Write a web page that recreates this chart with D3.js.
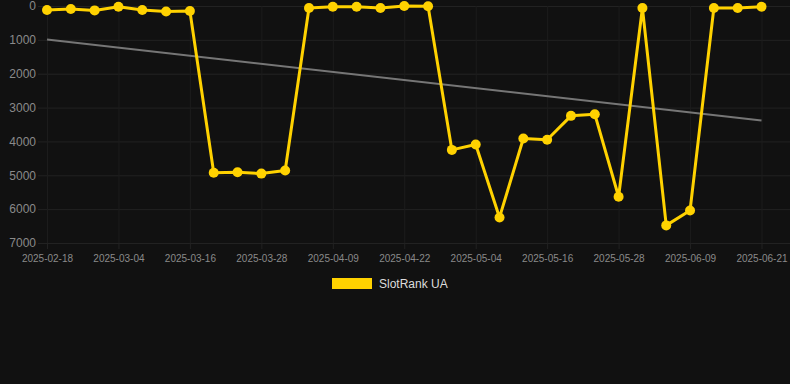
<!DOCTYPE html>
<html lang="en">
<head>
    <meta charset="UTF-8">
    <title>SlotRank UA</title>
    <script src="https://cdn.jsdelivr.net/npm/d3@7/dist/d3.min.js"></script>
    <style>
        body { margin: 0; background: #111111; }
        svg { display: block; font-family: "Liberation Sans", Arial, sans-serif; }
    </style>
</head>
<body>
<script>

    // dates (category axis) and rank values
    var dates = [
        "2025-02-18", "2025-02-22", "2025-02-27", "2025-03-04", "2025-03-08", "2025-03-12",
        "2025-03-16", "2025-03-20", "2025-03-24", "2025-03-28", "2025-04-01", "2025-04-05",
        "2025-04-09", "2025-04-13", "2025-04-17", "2025-04-22", "2025-04-26", "2025-04-30",
        "2025-05-04", "2025-05-08", "2025-05-12", "2025-05-16", "2025-05-20", "2025-05-24",
        "2025-05-28", "2025-06-01", "2025-06-05", "2025-06-09", "2025-06-13", "2025-06-17",
        "2025-06-21"
    ];
    var ranks = [
        120, 90, 130, 20, 120, 160,
        150, 4925, 4910, 4950, 4860, 60,
        20, 20, 60, 0, 10, 4250,
        4090, 6245, 3915, 3950, 3245, 3195,
        5635, 60, 6480, 6040, 60, 60,
        20
    ];
    // trend line, first and last value
    var trend = [990, 3385];
    var yTicks = [0, 1000, 2000, 3000, 4000, 5000, 6000, 7000];
    var seriesName = "SlotRank UA";

    var width = 790;
    var height = 384;
    // plot box (top is a reserved global, so prefixed names)
    var plotLeft = 47, plotRight = 761.5, plotTop = 6, plotBottom = 243;

    var svg = d3.select("body")
        .append("svg")
        .attr("width", width)
        .attr("height", height);

    svg.append("rect")
        .attr("width", width)
        .attr("height", height)
        .attr("fill", "#111111");

    var x = d3.scalePoint()
        .domain(dates)
        .range([plotLeft, plotRight]);

    var y = d3.scaleLinear()
        .domain([0, 7000])
        .range([plotTop, plotBottom]);

    // horizontal grid + y labels
    var yAxis = svg.append("g")
        .attr("transform", "translate(38,0)")
        .call(d3.axisLeft(y).tickValues(yTicks).tickFormat(d3.format("d"))
            .tickSize(-(width - 38)).tickPadding(2));
    yAxis.select(".domain").remove();
    yAxis.selectAll(".tick line").attr("stroke", "#222222").attr("stroke-width", 1);
    yAxis.selectAll(".tick text")
        .attr("fill", "#8a8a8a")
        .attr("font-size", "12px");

    // vertical grid + x labels
    var xTicks = dates.filter(function (d, i) { return i % 3 === 0; });
    var xAxis = svg.append("g")
        .attr("transform", "translate(0," + plotBottom + ")")
        .call(d3.axisBottom(x).tickValues(xTicks).tickSize(-(plotBottom - plotTop)).tickPadding(12));
    xAxis.select(".domain").remove();
    xAxis.selectAll(".tick line").attr("stroke", "#1c1c1c").attr("stroke-width", 1);
    xAxis.selectAll(".tick text")
        .attr("fill", "#8a8a8a")
        .attr("font-size", "10px");
    // small tick stubs below the axis
    xAxis.selectAll(".tick").append("line")
        .attr("y1", 0).attr("y2", 6)
        .attr("stroke", "#222222");

    // trend line
    svg.append("line")
        .attr("x1", x(dates[0]))
        .attr("y1", y(trend[0]))
        .attr("x2", x(dates[dates.length - 1]))
        .attr("y2", y(trend[1]))
        .attr("stroke", "#767676")
        .attr("stroke-width", 2);

    // series
    var line = d3.line()
        .x(function (d, i) { return x(dates[i]); })
        .y(function (d) { return y(d); });

    svg.append("path")
        .datum(ranks)
        .attr("d", line)
        .attr("fill", "none")
        .attr("stroke", "#ffd200")
        .attr("stroke-width", 3)
        .attr("stroke-linejoin", "round");

    svg.selectAll("circle.pt")
        .data(ranks)
        .enter()
        .append("circle")
        .attr("class", "pt")
        .attr("cx", function (d, i) { return x(dates[i]); })
        .attr("cy", function (d) { return y(d); })
        .attr("r", 5)
        .attr("fill", "#ffd200");

    // legend
    var legend = svg.append("g").attr("transform", "translate(332,278)");
    legend.append("rect")
        .attr("width", 40)
        .attr("height", 11)
        .attr("fill", "#ffd200");
    legend.append("text")
        .attr("x", 47)
        .attr("y", 10)
        .attr("fill", "#dddddd")
        .attr("font-size", "12px")
        .text(seriesName);

</script>
</body>
</html>
